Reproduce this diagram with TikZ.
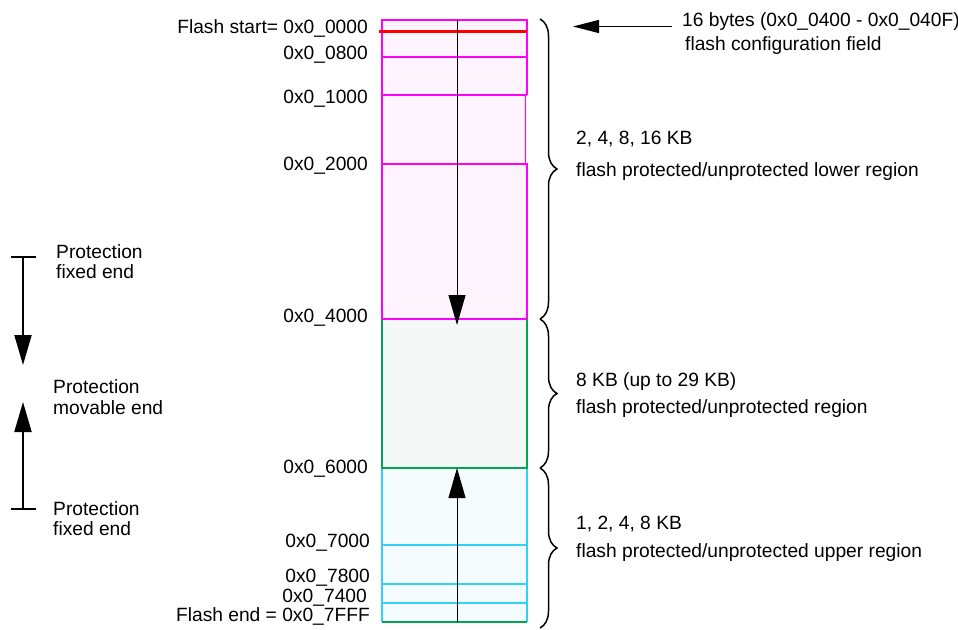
\documentclass[tikz,border=0pt]{standalone}
\usepackage{fontspec}
\setmainfont{Liberation Sans}
\usetikzlibrary{arrows.meta,decorations.pathreplacing}
\definecolor{magline}{HTML}{FF00FF}
\definecolor{redline}{HTML}{FF0000}
\definecolor{greenline}{HTML}{00A651}
\definecolor{cyanline}{HTML}{33D1F5}
\definecolor{pinkfill}{HTML}{FDF4FD}
\definecolor{greenfill}{HTML}{F4F9F7}
\definecolor{cyanfill}{HTML}{F4FCFE}
\begin{document}
\begin{tikzpicture}[x=1pt,y=-1pt,
  lbl/.style={inner sep=0pt,text height=13.6pt,text depth=0pt,font=\fontsize{19.2}{22}\selectfont},
  addr/.style={lbl,anchor=east},
  note/.style={lbl,anchor=west},
  bigtip/.style={-{Triangle[length=30pt,width=17pt]}},
  magl/.style={draw=magline,line width=2pt},
  grl/.style={draw=greenline,line width=2pt},
  cyl/.style={draw=cyanline,line width=2pt},
  bracestyle/.style={draw=black,line width=1.5pt,decorate,decoration={brace,amplitude=17pt}}]
\useasboundingbox (0,0) rectangle (958,629);
% fills
\fill[pinkfill] (382,20) rectangle (527,319);
\fill[greenfill] (382,319) rectangle (527,468);
\fill[cyanfill] (382,468) rectangle (527,622);
% cyan region
\draw[cyl] (382,468) -- (382,622);
\draw[cyl] (527,468) -- (527,622);
\draw[cyl] (382,545) -- (527,545);
\draw[cyl] (382,584) -- (527,584);
\draw[cyl] (382,603) -- (527,603);
\draw[grl] (382,622) -- (527,622);
% green region
\draw[grl] (382,319) -- (382,468) -- (527,468) -- (527,319);
% magenta region
\draw[magl] (382,319) -- (382,20) -- (527,20) -- (527,95);
\draw[magl] (382,57) -- (527,57);
\draw[magl] (382,95) -- (527,95);
\draw[draw=magline,line width=1pt] (525,95) -- (525,164);
\draw[magl] (382,164) -- (527,164) -- (527,319);
\draw[magl] (382,319) -- (527,319);
% red line
\draw[redline,line width=3pt] (379,31.5) -- (527,31.5);
% center arrows
\coordinate (ctop) at (457,20);
\coordinate (cdown) at (457,325);
\coordinate (cbot) at (457,622);
\coordinate (cup) at (457,468);
\draw[line width=1pt,bigtip] (ctop) -- (cdown);
\draw[line width=1pt,bigtip] (cbot) -- (cup);
% address labels
\node[addr] (a0) at (368,27) {Flash start= 0x0\_0000};
\node[addr] (a1) at (368,52.5) {0x0\_0800};
\node[addr] (a2) at (368,96.5) {0x0\_1000};
\node[addr] (a3) at (368,164) {0x0\_2000};
\node[addr] (a4) at (368,315.5) {0x0\_4000};
\node[addr] (a5) at (368,466.5) {0x0\_6000};
\node[addr] (a6) at (370,541) {0x0\_7000};
\node[addr] (a7) at (370,576) {0x0\_7800};
\node[addr] (a8) at (367,595.5) {0x0\_7400};
\node[addr] (a9) at (370,614.5) {Flash end = 0x0\_7FFF};
% braces
\coordinate (b0) at (540,19);
\coordinate (b1) at (540,319);
\coordinate (b2) at (540,468);
\coordinate (b3) at (540,628);
\draw[bracestyle] (b0) -- (b1);
\draw[bracestyle] (b1) -- (b2);
\draw[bracestyle] (b2) -- (b3);
% right notes
\node[note] (n0) at (682,20) {16 bytes (0x0\_0400 - 0x0\_040F)};
\node[note] (n1) at (685,44) {flash configuration field};
\coordinate (cfgtip) at (573,26.5);
\draw[line width=1.3pt,-{Triangle[length=26pt,width=13pt]}] (n0.west |- cfgtip) ++(-10,0) coordinate (cfgstart) -- (cfgtip);
\node[note] (n2) at (576,138) {2, 4, 8, 16 KB};
\node[note] (n3) at (576,170) {flash protected/unprotected lower region};
\node[note] (n4) at (576,380) {8 KB (up to 29 KB)};
\node[note] (n5) at (576,407) {flash protected/unprotected region};
\node[note] (n6) at (576,523) {1, 2, 4, 8 KB};
\node[note] (n7) at (576,551) {flash protected/unprotected upper region};
% left legend
\node[note] (p0) at (56,252) {Protection};
\node[note] (p1) at (56,272) {fixed end};
\node[note] (p2) at (53,387) {Protection};
\node[note] (p3) at (53,408) {movable end};
\node[note] (p4) at (53,509) {Protection};
\node[note] (p5) at (53,529) {fixed end};
\coordinate (t0) at (23,257);
\coordinate (t0d) at (23,365);
\coordinate (t1) at (23,509);
\coordinate (t1u) at (23,402);
\draw[line width=2pt] (11,257) -- (36,257);
\draw[line width=2pt] (11,509) -- (36,509);
\draw[line width=2pt,bigtip] (t0) -- (t0d);
\draw[line width=2pt,bigtip] (t1) -- (t1u);
\end{tikzpicture}
\end{document}
